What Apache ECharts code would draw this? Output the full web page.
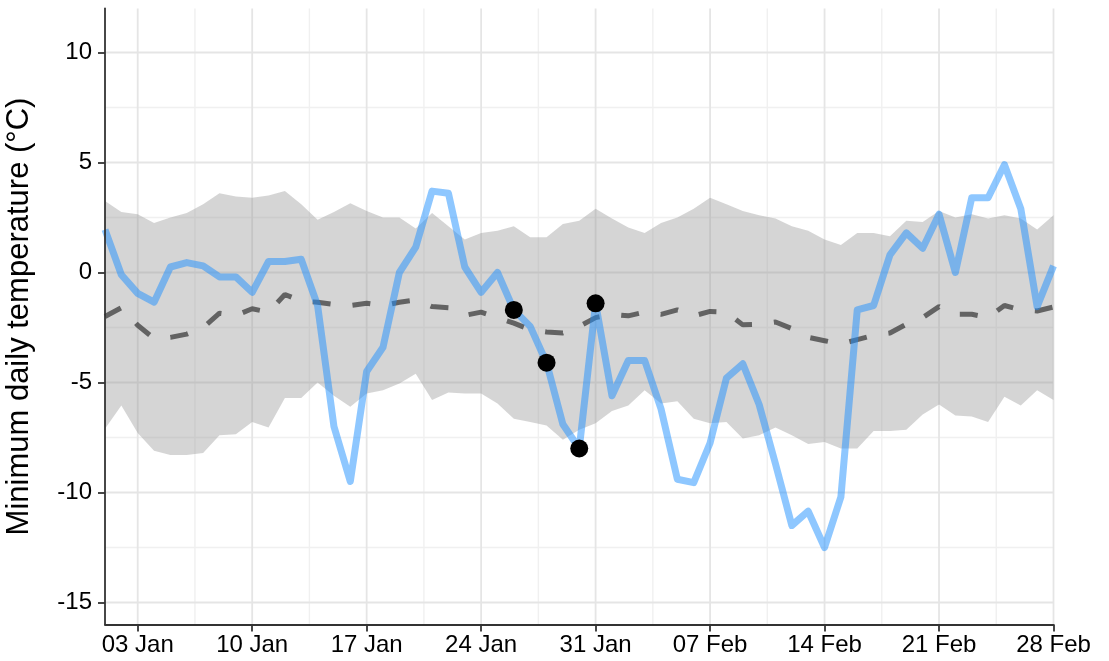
<!DOCTYPE html>
<html>
<head>
<meta charset="utf-8">
<script src="https://cdn.jsdelivr.net/npm/echarts@6/dist/echarts.min.js"></script>
<style>
  html, body { margin: 0; padding: 0; background: #ffffff; }
  #chart { width: 1109px; height: 661px; }
</style>
</head>
<body>
<div id="chart"></div>
<script>
// ---- data (day index 0 = 01 Jan ... 58 = 28 Feb) ----
var dates = ['01 Jan','02 Jan','03 Jan','04 Jan','05 Jan','06 Jan','07 Jan','08 Jan','09 Jan','10 Jan',
  '11 Jan','12 Jan','13 Jan','14 Jan','15 Jan','16 Jan','17 Jan','18 Jan','19 Jan','20 Jan',
  '21 Jan','22 Jan','23 Jan','24 Jan','25 Jan','26 Jan','27 Jan','28 Jan','29 Jan','30 Jan',
  '31 Jan','01 Feb','02 Feb','03 Feb','04 Feb','05 Feb','06 Feb','07 Feb','08 Feb','09 Feb',
  '10 Feb','11 Feb','12 Feb','13 Feb','14 Feb','15 Feb','16 Feb','17 Feb','18 Feb','19 Feb',
  '20 Feb','21 Feb','22 Feb','23 Feb','24 Feb','25 Feb','26 Feb','27 Feb','28 Feb'];

var observed = [1.95, -0.1, -0.95, -1.35, 0.25, 0.45, 0.3, -0.2, -0.2, -0.9,
  0.5, 0.5, 0.6, -1.5, -7.0, -9.5, -4.5, -3.4, 0.0, 1.15,
  3.7, 3.6, 0.25, -0.9, 0.0, -1.7, -2.45, -4.1, -6.9, -8.0,
  -1.4, -5.6, -4.0, -4.0, -6.2, -9.4, -9.55, -7.75, -4.8, -4.15,
  -6.0, -8.7, -11.5, -10.85, -12.5, -10.2, -1.7, -1.5, 0.8, 1.8,
  1.1, 2.65, 0.0, 3.4, 3.4, 4.9, 2.9, -1.55, 0.3];

var climMean = [-2.0, -1.6, -2.4, -3.0, -2.95, -2.8, -2.5, -1.85, -1.95, -1.65,
  -1.8, -1.0, -1.3, -1.35, -1.45, -1.5, -1.4, -1.5, -1.35, -1.25,
  -1.55, -1.6, -1.95, -1.8, -2.05, -2.3, -2.6, -2.7, -2.75, -2.45,
  -2.05, -1.9, -1.97, -1.8, -1.9, -1.7, -1.97, -1.77, -1.8, -2.38,
  -2.35, -2.25, -2.55, -2.95, -3.1, -3.25, -3.05, -2.85, -2.75, -2.35,
  -2.05, -1.55, -1.9, -1.9, -2.05, -1.5, -1.7, -1.75, -1.57];

var bandUpper = [3.25, 2.75, 2.65, 2.25, 2.5, 2.7, 3.1, 3.6, 3.45, 3.4,
  3.5, 3.7, 3.1, 2.4, 2.75, 3.15, 2.8, 2.5, 2.5, 2.0,
  2.7, 2.1, 1.5, 1.8, 1.9, 2.1, 1.6, 1.6, 2.2, 2.35,
  2.9, 2.45, 2.05, 1.8, 2.25, 2.5, 2.9, 3.4, 3.1, 2.8,
  2.6, 2.45, 2.1, 1.9, 1.5, 1.25, 1.8, 1.8, 1.65, 2.35,
  2.3, 2.8, 2.5, 2.65, 2.45, 2.6, 2.45, 1.95, 2.6];

var bandLower = [-7.1, -6.05, -7.3, -8.1, -8.3, -8.3, -8.2, -7.4, -7.35, -6.8,
  -7.05, -5.7, -5.7, -5.0, -5.6, -6.1, -5.5, -5.35, -5.05, -4.6,
  -5.8, -5.45, -5.5, -5.5, -5.95, -6.65, -6.8, -6.95, -7.6, -7.15,
  -6.85, -6.3, -6.05, -5.35, -5.95, -5.85, -6.65, -6.85, -6.8, -7.55,
  -7.4, -7.05, -7.4, -7.8, -7.7, -8.0, -8.0, -7.2, -7.2, -7.15,
  -6.45, -6.0, -6.5, -6.55, -6.8, -5.65, -6.05, -5.35, -5.8];

var highlightDays = [25, 27, 29, 30];

var xTickDays = [2, 9, 16, 23, 30, 37, 44, 51, 58];
var xTickLabels = ['03 Jan', '10 Jan', '17 Jan', '24 Jan', '31 Jan', '07 Feb', '14 Feb', '21 Feb', '28 Feb'];
var xMinorDays = [5.5, 12.5, 19.5, 26.5, 33.5, 40.5, 47.5, 54.5];
var yTicks = [-15, -10, -5, 0, 5, 10];
var yMinor = [-12.5, -7.5, -2.5, 2.5, 7.5];

// ---- chart ----
var X_MIN = 0, X_MAX = 58, Y_MIN = -16, Y_MAX = 12;
var FONT = "'Liberation Sans', Arial, sans-serif";

function idx(arr) { return arr.map(function (v, i) { return [i, v]; }); }

function gridSeries(name, items, vertical, color, width) {
  return {
    type: 'custom', name: name, silent: true, z: 1, clip: false,
    data: items.map(function (v) { return vertical ? [v, Y_MIN] : [X_MIN, v]; }),
    renderItem: function (params, api) {
      var p1, p2;
      if (vertical) { p1 = api.coord([api.value(0), Y_MIN]); p2 = api.coord([api.value(0), Y_MAX]); }
      else { p1 = api.coord([X_MIN, api.value(1)]); p2 = api.coord([X_MAX, api.value(1)]); }
      return { type: 'line', shape: { x1: p1[0], y1: p1[1], x2: p2[0], y2: p2[1] },
               style: { stroke: color, lineWidth: width } };
    }
  };
}

var chart = echarts.init(document.getElementById('chart'), null, { renderer: 'canvas' });
chart.setOption({
  animation: false,
  backgroundColor: '#ffffff',
  grid: { left: 105, right: 55.5, top: 8.5, bottom: 36.5, containLabel: false, outerBoundsMode: 'none' },
  xAxis: {
    type: 'value', min: X_MIN, max: X_MAX, z: 10,
    axisLine: { show: true, onZero: false, lineStyle: { color: '#333333', width: 1.8 } },
    axisTick: { show: true, length: 7, customValues: xTickDays, lineStyle: { color: '#333333', width: 1.8 } },
    axisLabel: {
      customValues: xTickDays, margin: 9, fontSize: 24, color: '#000000', fontFamily: FONT,
      formatter: function (v) { var k = xTickDays.indexOf(Math.round(v)); return k >= 0 ? xTickLabels[k] : ''; }
    },
    splitLine: { show: false }
  },
  yAxis: {
    type: 'value', min: Y_MIN, max: Y_MAX, z: 10,
    name: 'Minimum daily temperature (°C)', nameLocation: 'middle', nameGap: 70,
    nameTextStyle: { fontSize: 31, color: '#000000', fontFamily: FONT },
    axisLine: { show: true, onZero: false, lineStyle: { color: '#333333', width: 1.8 } },
    axisTick: { show: true, length: 7, customValues: yTicks, lineStyle: { color: '#333333', width: 1.8 } },
    axisLabel: { customValues: yTicks, margin: 13, fontSize: 24, color: '#000000', fontFamily: FONT },
    splitLine: { show: false }
  },
  series: [
    gridSeries('yMinorGrid', yMinor, false, '#f0f0f0', 1.4),
    gridSeries('xMinorGrid', xMinorDays, true, '#f0f0f0', 1.4),
    gridSeries('yMajorGrid', yTicks, false, '#e5e5e5', 1.8),
    gridSeries('xMajorGrid', xTickDays, true, '#e5e5e5', 1.8),
    {
      type: 'custom', name: 'band', silent: true, z: 2,
      data: bandLower.map(function (v, i) { return [i, v, bandUpper[i]]; }),
      encode: { x: 0, y: [1, 2] },
      renderItem: function (params, api) {
        if (params.dataIndex !== 0) return null;
        var pts = [];
        for (var i = 0; i < bandUpper.length; i++) pts.push(api.coord([i, bandUpper[i]]));
        for (var j = bandLower.length - 1; j >= 0; j--) pts.push(api.coord([j, bandLower[j]]));
        return { type: 'polygon', shape: { points: pts }, style: { fill: 'rgba(150,150,150,0.4)' } };
      }
    },
    {
      type: 'line', name: 'mean', z: 3, showSymbol: false, symbol: 'none', silent: true,
      data: idx(climMean),
      lineStyle: { color: 'rgba(60,60,60,0.75)', width: 5, type: [18, 22], cap: 'butt' }
    },
    {
      type: 'line', name: 'observed', z: 4, showSymbol: false, symbol: 'none', silent: true,
      data: idx(observed),
      lineStyle: { color: 'rgba(30,144,255,0.5)', width: 7, join: 'round' }
    },
    {
      type: 'scatter', name: 'highlight', z: 5, silent: true, symbolSize: 18,
      itemStyle: { color: '#000000', opacity: 1 },
      data: highlightDays.map(function (d) { return [d, observed[d]]; })
    }
  ]
});
</script>
</body>
</html>
